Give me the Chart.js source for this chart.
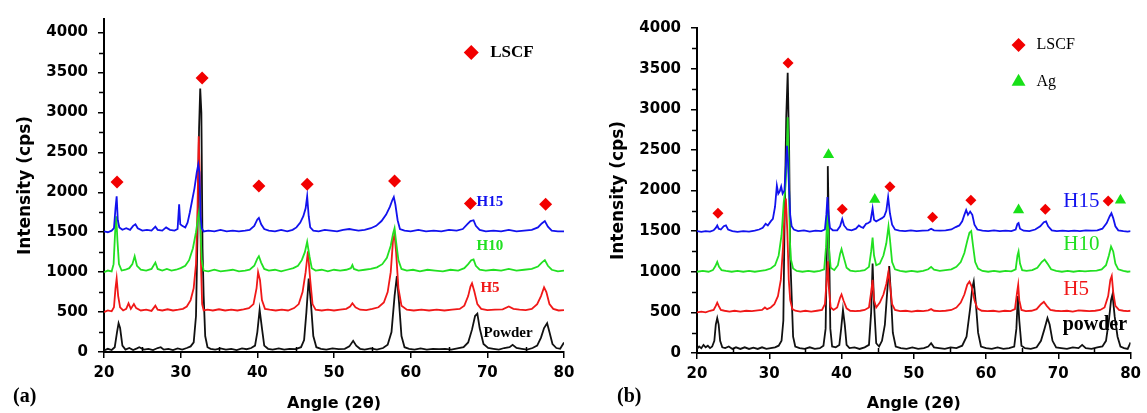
<!DOCTYPE html>
<html>
<head>
<meta charset="utf-8">
<script src="https://cdn.jsdelivr.net/npm/chart.js@4.4.1/dist/chart.umd.min.js"></script>
<style>
  html, body { margin:0; padding:0; background:#fff; }
  #wrap { position:relative; width:1147px; height:413px; overflow:hidden; }
  canvas { position:absolute; left:0; top:0; }
</style>
</head>
<body>
<div id="wrap">
  <canvas id="ca" width="1147" height="413"></canvas>
  <canvas id="cb" width="1147" height="413"></canvas>
</div>
<script>
// ---------- Panel (a) : [angle 2θ, intensity cps] ----------
const aPowder = [[20,20],[20.5,40],[21,25],[21.4,60],[21.7,250],[21.9,360],[22.1,300],[22.4,80],[22.8,30],[23.3,50],[23.8,25],[24.3,45],[24.6,60],[25.2,30],[25.8,40],[26.4,25],[27,50],[27.4,60],[27.8,30],[28.4,40],[29,25],[29.6,45],[30.2,30],[30.8,50],[31.3,70],[31.7,120],[32,450],[32.2,1500],[32.4,2800],[32.55,3300],[32.7,3000],[32.85,1300],[33,700],[33.2,200],[33.5,60],[33.9,40],[34.5,30],[35.2,45],[35.9,30],[36.6,40],[37.3,25],[38,45],[38.6,35],[39.2,50],[39.7,80],[40,250],[40.3,530],[40.6,300],[40.9,80],[41.4,40],[42,30],[42.8,45],[43.5,30],[44.2,40],[45,35],[45.7,60],[46.1,150],[46.4,500],[46.7,920],[47,600],[47.3,200],[47.7,60],[48.3,40],[49,30],[49.8,45],[50.6,35],[51.4,40],[52,70],[52.5,140],[52.9,80],[53.4,40],[54,30],[54.8,45],[55.6,30],[56.4,50],[57,90],[57.5,250],[57.9,700],[58.2,950],[58.5,600],[58.8,200],[59.2,60],[59.8,40],[60.5,30],[61.3,45],[62.1,30],[62.9,40],[63.7,35],[64.5,40],[65.3,30],[66.1,45],[66.9,60],[67.5,120],[68,280],[68.4,450],[68.7,480],[69,300],[69.5,100],[70.1,50],[70.8,40],[71.5,30],[72.2,50],[72.9,60],[73.3,90],[73.8,50],[74.5,40],[75.2,30],[75.9,50],[76.5,80],[77,180],[77.4,300],[77.8,360],[78.1,250],[78.5,100],[79,50],[79.5,40],[80,120]];
const aH5 = [[20,500],[20.5,520],[21,510],[21.3,560],[21.5,800],[21.65,920],[21.85,700],[22.1,560],[22.5,520],[22.9,540],[23.2,610],[23.5,540],[23.9,600],[24.2,550],[24.8,520],[25.5,530],[26.2,515],[26.7,580],[27,530],[27.6,520],[28.3,535],[29,520],[29.7,530],[30.3,540],[30.8,570],[31.3,650],[31.7,800],[32,1100],[32.2,1800],[32.35,2700],[32.5,2200],[32.65,1100],[32.8,600],[33,520],[33.5,530],[34.2,520],[35,535],[35.8,520],[36.6,530],[37.4,520],[38.2,535],[38.9,550],[39.5,600],[39.9,800],[40.1,1000],[40.35,900],[40.6,650],[41,540],[41.6,530],[42.4,520],[43.2,530],[44,520],[44.8,550],[45.4,600],[45.9,750],[46.3,1000],[46.6,1260],[46.9,900],[47.2,600],[47.6,530],[48.4,520],[49.2,530],[50,520],[50.8,530],[51.6,540],[52.1,570],[52.4,610],[52.8,560],[53.4,530],[54.2,525],[55,540],[55.8,560],[56.5,620],[57,750],[57.4,1000],[57.7,1400],[57.9,1470],[58.1,1250],[58.4,800],[58.8,580],[59.5,530],[60.4,520],[61.4,530],[62.4,520],[63.4,530],[64.4,520],[65.4,530],[66.4,540],[67,580],[67.5,700],[67.8,820],[68,860],[68.3,760],[68.7,600],[69.2,540],[70,525],[71,530],[72,535],[72.8,570],[73.4,540],[74.2,530],[75,525],[75.8,540],[76.5,600],[77,700],[77.4,810],[77.7,750],[78.1,600],[78.6,540],[79.3,520],[80,525]];
const aH10 = [[20,1000],[20.5,1020],[21,1010],[21.25,1100],[21.45,1500],[21.6,1700],[21.75,1400],[21.95,1100],[22.3,1020],[22.8,1030],[23.3,1050],[23.7,1100],[24,1200],[24.3,1080],[24.8,1030],[25.5,1020],[26.2,1040],[26.7,1120],[27,1040],[27.6,1020],[28.2,1040],[28.8,1020],[29.4,1030],[30,1050],[30.6,1080],[31.1,1150],[31.6,1300],[32,1500],[32.3,1700],[32.45,1780],[32.6,1500],[32.75,1150],[33,1020],[33.6,1010],[34.4,1030],[35.2,1010],[36,1020],[36.8,1030],[37.6,1010],[38.4,1020],[39,1030],[39.6,1080],[40,1170],[40.2,1200],[40.5,1120],[40.9,1040],[41.5,1020],[42.3,1030],[43.1,1010],[43.9,1030],[44.7,1050],[45.3,1080],[45.8,1150],[46.2,1250],[46.5,1380],[46.8,1200],[47.1,1050],[47.6,1020],[48.4,1030],[49.2,1010],[50,1030],[50.8,1020],[51.6,1030],[52.2,1050],[52.4,1090],[52.6,1040],[53.2,1020],[54,1030],[54.8,1040],[55.6,1060],[56.3,1100],[56.9,1180],[57.4,1330],[57.7,1480],[57.9,1550],[58.1,1380],[58.4,1150],[58.8,1040],[59.5,1020],[60.3,1030],[61.2,1010],[62.2,1030],[63.2,1020],[64.2,1010],[65.2,1030],[66.2,1020],[67,1050],[67.5,1100],[67.9,1150],[68.2,1160],[68.5,1080],[69,1030],[69.8,1020],[70.8,1030],[71.8,1020],[72.8,1040],[73.8,1020],[74.8,1030],[75.8,1040],[76.6,1070],[77.1,1120],[77.5,1150],[77.9,1080],[78.4,1030],[79.2,1010],[80,1020]];
const aH15 = [[20,1510],[20.5,1500],[21,1520],[21.3,1550],[21.5,1800],[21.65,1950],[21.8,1650],[22,1560],[22.4,1530],[22.9,1550],[23.4,1530],[23.8,1580],[24.1,1600],[24.4,1550],[25,1520],[25.6,1530],[26.2,1520],[26.7,1570],[27,1530],[27.6,1520],[28.1,1560],[28.6,1530],[29.2,1520],[29.6,1540],[29.8,1850],[29.95,1600],[30.2,1580],[30.6,1560],[30.9,1620],[31.2,1750],[31.5,1900],[31.8,2050],[32.1,2250],[32.3,2350],[32.45,2250],[32.6,1700],[32.75,1550],[33,1510],[33.6,1520],[34.4,1510],[35.2,1530],[36,1510],[36.8,1520],[37.6,1510],[38.4,1520],[39,1530],[39.6,1580],[40,1660],[40.2,1680],[40.5,1600],[40.9,1540],[41.5,1520],[42.3,1510],[43.1,1530],[43.9,1510],[44.6,1530],[45.1,1560],[45.6,1620],[46,1700],[46.3,1800],[46.5,1950],[46.7,1700],[46.9,1560],[47.3,1520],[48,1510],[48.8,1530],[49.6,1520],[50.4,1510],[51.2,1530],[52,1540],[52.6,1530],[53.2,1520],[54,1530],[54.8,1550],[55.5,1580],[56.2,1640],[56.8,1720],[57.3,1820],[57.6,1900],[57.8,1940],[58,1850],[58.3,1650],[58.6,1540],[59.2,1520],[60,1510],[61,1530],[62,1510],[63,1520],[64,1510],[65,1530],[66,1520],[66.8,1540],[67.4,1600],[67.8,1640],[68.2,1650],[68.5,1580],[69,1530],[69.8,1510],[70.8,1520],[71.8,1510],[72.8,1530],[73.8,1510],[74.8,1520],[75.8,1530],[76.6,1560],[77.1,1610],[77.5,1640],[77.9,1570],[78.4,1520],[79.2,1510],[80,1510]];
const aLSCF = [[21.7,2130],[32.8,3430],[40.2,2080],[46.5,2100],[57.9,2140],[67.8,1860],[77.6,1850]];

// ---------- Panel (b) ----------
const bPowder = [[20,50],[20.3,80],[20.6,60],[20.9,100],[21.2,70],[21.5,90],[21.8,60],[22.1,80],[22.4,150],[22.6,350],[22.8,430],[23,350],[23.2,150],[23.5,70],[23.9,60],[24.4,80],[24.9,50],[25.4,70],[26,50],[26.6,70],[27.2,50],[27.8,65],[28.4,50],[29,70],[29.6,50],[30.2,60],[30.8,70],[31.3,90],[31.7,150],[31.95,400],[32.1,1500],[32.35,2900],[32.55,3450],[32.75,2500],[32.9,1200],[33.1,700],[33.3,200],[33.6,80],[34.2,60],[34.9,50],[35.6,70],[36.3,50],[37,60],[37.5,90],[37.8,300],[38,1500],[38.1,2300],[38.25,1500],[38.45,300],[38.7,80],[39.2,70],[39.7,100],[39.95,300],[40.2,530],[40.45,350],[40.7,100],[41.1,60],[41.8,70],[42.5,50],[43.2,70],[43.8,100],[44.1,500],[44.3,1100],[44.5,600],[44.8,120],[45.2,80],[45.6,150],[46,350],[46.4,850],[46.6,1070],[46.85,700],[47.1,250],[47.5,80],[48.2,60],[49,50],[49.8,70],[50.6,50],[51.4,60],[52,80],[52.4,120],[52.8,70],[53.5,60],[54.3,50],[55.1,70],[55.9,60],[56.7,90],[57.3,200],[57.8,550],[58.1,800],[58.3,880],[58.6,600],[58.9,250],[59.3,80],[60,60],[60.8,50],[61.6,70],[62.4,50],[63.2,60],[63.9,80],[64.2,300],[64.4,700],[64.6,400],[64.9,90],[65.4,60],[66.2,50],[67,70],[67.6,150],[68.1,300],[68.5,430],[68.8,350],[69.2,150],[69.7,70],[70.4,60],[71.2,50],[72,70],[72.8,60],[73.3,100],[73.8,60],[74.6,50],[75.4,70],[76.1,80],[76.6,150],[77,400],[77.3,650],[77.5,720],[77.8,450],[78.2,200],[78.6,80],[79.1,60],[79.6,50],[80,130]];
const bH5 = [[20,500],[20.6,510],[21.2,500],[21.8,520],[22.3,530],[22.6,580],[22.8,620],[23,580],[23.3,530],[23.8,520],[24.5,510],[25.2,520],[26,510],[26.8,520],[27.6,515],[28.4,525],[29,530],[29.4,560],[29.7,540],[30.2,560],[30.7,600],[31.2,700],[31.6,900],[31.9,1300],[32.1,1700],[32.3,1900],[32.5,1500],[32.7,900],[32.9,650],[33.2,540],[33.6,520],[34.3,510],[35,520],[35.8,510],[36.6,520],[37.3,530],[37.7,600],[37.95,900],[38.1,1130],[38.25,800],[38.5,560],[38.9,530],[39.4,560],[39.8,680],[40,720],[40.3,640],[40.7,550],[41.2,520],[41.9,515],[42.6,520],[43.2,530],[43.8,560],[44.1,750],[44.3,900],[44.5,650],[44.8,560],[45.3,620],[45.8,720],[46.2,850],[46.5,1000],[46.7,850],[47,600],[47.4,530],[48.1,515],[48.9,520],[49.7,510],[50.5,520],[51.3,515],[52,525],[52.4,540],[52.8,520],[53.6,515],[54.4,520],[55.2,530],[55.9,560],[56.5,620],[57,720],[57.4,840],[57.7,880],[58,820],[58.4,650],[58.8,550],[59.4,520],[60.2,515],[61,520],[61.8,510],[62.6,520],[63.4,515],[64,540],[64.3,750],[64.45,840],[64.6,650],[64.9,530],[65.5,515],[66.3,520],[67,540],[67.6,600],[68,630],[68.4,580],[68.9,530],[69.6,520],[70.4,515],[71.2,520],[72,510],[72.8,525],[73.5,520],[74.3,515],[75.1,520],[75.8,530],[76.4,560],[76.9,700],[77.2,900],[77.4,950],[77.6,750],[77.9,580],[78.4,530],[79,520],[79.6,515],[80,520]];
const bH10 = [[20,1000],[20.8,1010],[21.6,1000],[22.2,1020],[22.55,1070],[22.8,1120],[23.05,1060],[23.4,1020],[24,1010],[24.8,1000],[25.6,1010],[26.4,1000],[27.2,1010],[28,1000],[28.8,1010],[29.5,1020],[30.2,1040],[30.8,1080],[31.3,1200],[31.7,1450],[32,1850],[32.2,2000],[32.4,2300],[32.55,2900],[32.7,2300],[32.85,1400],[33,1150],[33.3,1040],[33.8,1010],[34.6,1000],[35.4,1010],[36.2,1000],[37,1010],[37.6,1030],[37.85,1300],[38.05,1750],[38.25,1300],[38.5,1050],[39,1020],[39.5,1080],[39.8,1220],[40,1280],[40.3,1180],[40.7,1050],[41.2,1015],[41.9,1005],[42.6,1010],[43.2,1020],[43.8,1060],[44.1,1250],[44.3,1420],[44.5,1200],[44.8,1080],[45.3,1100],[45.8,1200],[46.2,1350],[46.5,1560],[46.7,1400],[47,1120],[47.4,1030],[48.1,1010],[48.9,1000],[49.7,1010],[50.5,1000],[51.3,1010],[52,1030],[52.4,1060],[52.8,1025],[53.6,1010],[54.4,1020],[55.2,1030],[55.9,1060],[56.5,1120],[57,1230],[57.4,1380],[57.7,1480],[57.95,1500],[58.2,1320],[58.5,1120],[58.9,1040],[59.5,1010],[60.3,1000],[61.1,1010],[61.9,1000],[62.7,1010],[63.5,1005],[64.1,1030],[64.35,1200],[64.5,1250],[64.7,1100],[65,1020],[65.6,1010],[66.4,1020],[67.1,1050],[67.7,1120],[68.1,1150],[68.5,1100],[69,1030],[69.7,1010],[70.5,1000],[71.3,1010],[72.1,1000],[72.9,1010],[73.7,1005],[74.5,1010],[75.3,1015],[76,1030],[76.6,1080],[77,1200],[77.3,1310],[77.6,1250],[77.9,1100],[78.3,1030],[79,1010],[79.6,1000],[80,1005]];
const bH15 = [[20,1500],[20.6,1490],[21.2,1500],[21.8,1495],[22.3,1510],[22.6,1540],[22.8,1570],[23,1530],[23.3,1520],[23.7,1560],[24,1570],[24.3,1520],[24.9,1500],[25.6,1490],[26.4,1500],[27.2,1495],[28,1505],[28.6,1520],[29.1,1540],[29.5,1590],[29.8,1570],[30.2,1620],[30.5,1650],[30.8,1800],[31.05,2060],[31.25,1960],[31.45,1990],[31.65,2050],[31.85,1960],[32.1,2000],[32.3,2300],[32.45,2550],[32.6,2350],[32.75,2000],[32.9,1700],[33.1,1560],[33.4,1520],[34,1500],[34.8,1510],[35.6,1495],[36.4,1505],[37.2,1500],[37.7,1520],[37.9,1700],[38.05,1920],[38.2,1700],[38.4,1540],[38.8,1510],[39.4,1510],[39.8,1560],[40.1,1650],[40.35,1570],[40.8,1520],[41.4,1510],[42,1530],[42.4,1570],[42.7,1550],[43,1540],[43.4,1590],[43.7,1600],[44,1620],[44.3,1780],[44.5,1640],[44.8,1620],[45.2,1640],[45.6,1660],[45.9,1680],[46.2,1750],[46.45,1920],[46.7,1720],[47,1580],[47.4,1520],[48,1505],[48.8,1500],[49.6,1510],[50.4,1500],[51.2,1505],[52,1510],[52.4,1530],[52.8,1510],[53.6,1505],[54.4,1510],[55.2,1520],[55.8,1550],[56.3,1570],[56.7,1620],[57,1700],[57.25,1760],[57.5,1700],[57.8,1740],[58.1,1700],[58.4,1580],[58.8,1520],[59.5,1505],[60.3,1500],[61.1,1510],[61.9,1500],[62.7,1505],[63.5,1500],[64.1,1520],[64.35,1590],[64.5,1600],[64.7,1530],[65.2,1505],[66,1500],[66.8,1520],[67.5,1560],[68,1610],[68.3,1620],[68.6,1560],[69.1,1510],[69.8,1500],[70.6,1505],[71.4,1500],[72.2,1505],[73,1500],[73.8,1510],[74.6,1505],[75.4,1510],[76.1,1530],[76.7,1600],[77.1,1680],[77.35,1720],[77.6,1660],[77.9,1560],[78.3,1510],[79,1500],[79.6,1495],[80,1500]];
const bLSCF = [[22.9,1720],[32.6,3570],[40.1,1770],[46.7,2045],[52.6,1670],[57.9,1880],[68.2,1770],[76.9,1870]];
const bAg = [[38.2,2440],[44.6,1890],[64.5,1760],[78.6,1880]];

// tick labels / axis ranges
const angleTicks = [20, 30, 40, 50, 60, 70, 80];
const intensityTicks = [0, 500, 1000, 1500, 2000, 2500, 3000, 3500, 4000];

// legends and curve labels: [angle, intensity, text]
const aLegendLSCF = [[67.9, 3750, 'LSCF']];
const aCurveLabels = [[68.6, 1880, 'H15'], [68.6, 1320, 'H10'], [69.1, 800, 'H5'], [69.5, 235, 'Powder']];
const bLegendLSCF = [[64.5, 3790, 'LSCF']];
const bLegendAg = [[64.5, 3340, 'Ag']];
const bCurveLabels = [[70.7, 1860, 'H15'], [70.7, 1330, 'H10'], [70.7, 780, 'H5'], [70.6, 345, 'powder']];

const BLACK = '#111111', RED = '#f01818', GREEN = '#22e022', BLUE = '#1212ee';
const LSCF_RED = '#f20000', AG_GREEN = '#18e018';

const pts = arr => arr.map(p => ({x: p[0], y: p[1]}));

function lineDS(arr, color) {
  return { type: 'line', data: pts(arr), borderColor: color, borderWidth: 1.8,
           pointRadius: 0, tension: 0, fill: false };
}
function markerDS(arr, color, style, r) {
  return { type: 'scatter', data: pts(arr), backgroundColor: color, borderColor: color,
           pointStyle: style, pointRadius: r, borderWidth: 0, showLine: false };
}

const minorTicks = {
  id: 'minorTicks',
  afterDraw(chart) {
    const {ctx, chartArea, scales: {x, y}} = chart;
    ctx.save();
    ctx.strokeStyle = '#000';
    ctx.lineWidth = 1.5;
    for (let v = 250; v < 4000; v += 500) {
      const py = Math.round(y.getPixelForValue(v)) + 0.5;
      ctx.beginPath(); ctx.moveTo(chartArea.left, py); ctx.lineTo(chartArea.left - 5, py); ctx.stroke();
    }
    for (let v = 25; v < 80; v += 10) {
      const px = Math.round(x.getPixelForValue(v)) + 0.5;
      ctx.beginPath(); ctx.moveTo(px, chartArea.bottom); ctx.lineTo(px, chartArea.bottom - 5); ctx.stroke();
    }
    ctx.restore();
  }
};

const notes = {
  id: 'notes',
  afterDatasetsDraw(chart, args, opts) {
    const {ctx, scales: {x, y}} = chart;
    ctx.save();
    (opts.groups || []).forEach(g => {
      ctx.font = g.font;
      ctx.fillStyle = g.color;
      ctx.textAlign = 'left';
      ctx.textBaseline = 'middle';
      g.items.forEach(it => {
        const px = x.getPixelForValue(it[0]) + (g.dx || 0);
        const py = y.getPixelForValue(it[1]);
        ctx.fillText(it[2], px, py);
      });
    });
    (opts.pixelTexts || []).forEach(t => {
      ctx.font = t.font; ctx.fillStyle = t.color; ctx.textAlign = 'left'; ctx.textBaseline = 'middle';
      ctx.fillText(t.text, t.x, t.y);
    });
    ctx.restore();
  }
};

const tickFont = {family: 'DejaVu Sans', size: 15, weight: 'bold'};

function makeOptions(cfg) {
  return {
    responsive: false, animation: false, devicePixelRatio: 1,
    layout: { padding: cfg.padding },
    plugins: { legend: {display: false}, tooltip: {enabled: false}, notes: cfg.notes },
    scales: {
      x: {
        type: 'linear', min: 20, max: 80,
        afterBuildTicks: s => { s.ticks = angleTicks.map(v => ({value: v})); },
        afterFit: s => { s.height = cfg.xHeight; },
        ticks: { color: '#000', font: tickFont, padding: 6, maxRotation: 0, callback: v => String(v) },
        grid: { drawOnChartArea: false, drawTicks: true, tickLength: 6, color: '#000', lineWidth: 1.5 },
        border: { display: true, color: '#000', width: 2 },
        title: { display: true, text: 'Angle (2θ)', color: '#000',
                 font: {family: 'DejaVu Sans', size: 16, weight: 'bold'}, padding: {top: 0, bottom: 0} }
      },
      y: {
        type: 'linear', min: 0, max: cfg.yMax,
        afterBuildTicks: s => { s.ticks = intensityTicks.map(v => ({value: v})); },
        afterFit: s => { s.width = 93; },
        ticks: { color: '#000', font: tickFont, padding: 10, callback: v => String(v) },
        grid: { drawOnChartArea: false, drawTicks: true, tickLength: 6, color: '#000', lineWidth: 1.5 },
        border: { display: true, color: '#000', width: 2 },
        title: { display: true, text: 'Intensity (cps)', color: '#000',
                 font: {family: 'DejaVu Sans', size: 17, weight: 'bold'}, padding: {top: 4, bottom: 0} }
      }
    }
  };
}

new Chart(document.getElementById('ca'), {
  data: { datasets: [
    markerDS(aLSCF, LSCF_RED, 'rectRot', 6.5),
    markerDS(aLegendLSCF, LSCF_RED, 'rectRot', 7.5),
    lineDS(aH15, BLUE), lineDS(aH10, GREEN), lineDS(aH5, RED), lineDS(aPowder, BLACK)
  ]},
  options: makeOptions({
    padding: {left: 11, top: 14, right: 583, bottom: 0},
    xHeight: 61, yMax: 4170,
    notes: {
      groups: [
        {font: 'bold 17px "Liberation Serif"', color: '#000', items: aLegendLSCF, dx: 19},
        {font: 'bold 15px "Liberation Serif"', color: BLUE, items: [aCurveLabels[0]]},
        {font: 'bold 15px "Liberation Serif"', color: GREEN, items: [aCurveLabels[1]]},
        {font: 'bold 15px "Liberation Serif"', color: RED, items: [aCurveLabels[2]]},
        {font: 'bold 15px "Liberation Serif"', color: '#000', items: [aCurveLabels[3]]}
      ],
      pixelTexts: [
        {text: '(a)', x: 13, y: 397, font: 'bold 20px "Liberation Serif"', color: '#000'},
        {text: '(b)', x: 617, y: 397, font: 'bold 20px "Liberation Serif"', color: '#000'}
      ]
    }
  }),
  plugins: [minorTicks, notes]
});

new Chart(document.getElementById('cb'), {
  data: { datasets: [
    markerDS(bLSCF, LSCF_RED, 'rectRot', 5.5),
    markerDS(bAg, AG_GREEN, 'triangle', 6.5),
    markerDS(bLegendLSCF, LSCF_RED, 'rectRot', 7),
    markerDS(bLegendAg, AG_GREEN, 'triangle', 8),
    lineDS(bH15, BLUE), lineDS(bH10, GREEN), lineDS(bH5, RED), lineDS(bPowder, BLACK)
  ]},
  options: makeOptions({
    padding: {left: 604, top: 28, right: 12, bottom: 0},
    xHeight: 60, yMax: 4000,
    notes: {
      groups: [
        {font: '16px "Liberation Serif"', color: '#000', items: bLegendLSCF, dx: 18},
        {font: '16px "Liberation Serif"', color: '#000', items: bLegendAg, dx: 18},
        {font: '21px "Liberation Serif"', color: BLUE, items: [bCurveLabels[0]]},
        {font: '21px "Liberation Serif"', color: GREEN, items: [bCurveLabels[1]]},
        {font: '21px "Liberation Serif"', color: RED, items: [bCurveLabels[2]]},
        {font: 'bold 20px "Liberation Serif"', color: '#000', items: [bCurveLabels[3]]}
      ]
    }
  }),
  plugins: [minorTicks, notes]
});
</script>
</body>
</html>
